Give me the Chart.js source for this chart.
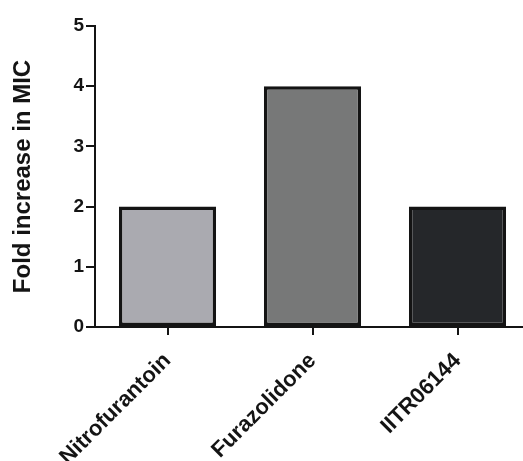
<!DOCTYPE html>
<html>
<head>
<meta charset="utf-8">
<script src="https://cdn.jsdelivr.net/npm/chart.js@4/dist/chart.umd.min.js"></script>
<style>
  html, body { margin: 0; padding: 0; background: #ffffff; overflow: hidden; }
  #wrap { position: relative; width: 532px; height: 461px; }
</style>
</head>
<body>
<div id="wrap"><canvas id="c" width="532" height="461"></canvas></div>
<script>
// Fold change in MIC per compound
const drugs = ['Nitrofurantoin', 'Furazolidone', 'IITR06144'];
const foldIncrease = [2, 4, 2];
const barFills = ['#aaaab0', '#777878', '#25272a'];
const yAxisMin = 0;
const yAxisMax = 5;
const yAxisStep = 1;
const yAxisTitle = 'Fold increase in MIC';

const ink = '#141414';
const family = '"Liberation Sans", Arial, Helvetica, sans-serif';

new Chart(document.getElementById('c'), {
  type: 'bar',
  data: {
    labels: drugs,
    datasets: [{
      data: foldIncrease,
      backgroundColor: barFills,
      borderColor: ink,
      borderWidth: 3.5,
      borderSkipped: false,
      barPercentage: 0.67,
      categoryPercentage: 1.0
    }]
  },
  options: {
    responsive: false,
    animation: false,
    devicePixelRatio: 1,
    layout: { padding: { top: 26, left: 0, right: 2, bottom: 0 } },
    plugins: { legend: { display: false }, tooltip: { enabled: false } },
    scales: {
      x: {
        offset: true,
        grid: {
          offset: false,
          drawOnChartArea: false,
          drawTicks: true,
          tickLength: 8,
          color: ink,
          lineWidth: 2
        },
        border: { display: true, color: ink, width: 2 },
        ticks: {
          color: ink,
          font: { family: family, size: 22, weight: 'bold' },
          minRotation: 45,
          maxRotation: 45,
          padding: 13
        },
        afterFit: (s) => { s.height = 134; }
      },
      y: {
        min: yAxisMin,
        max: yAxisMax,
        grid: {
          drawOnChartArea: false,
          drawTicks: true,
          tickLength: 9,
          color: ink,
          lineWidth: 2
        },
        border: { display: true, color: ink, width: 2 },
        ticks: {
          stepSize: yAxisStep,
          color: ink,
          font: { family: family, size: 19, weight: 'bold' },
          padding: 2
        },
        title: {
          display: true,
          text: yAxisTitle,
          color: ink,
          font: { family: family, size: 24, weight: 'bold' },
          padding: { top: 9, bottom: 0 }
        },
        afterFit: (s) => { s.width = 95; }
      }
    }
  }
});
</script>
</body>
</html>
